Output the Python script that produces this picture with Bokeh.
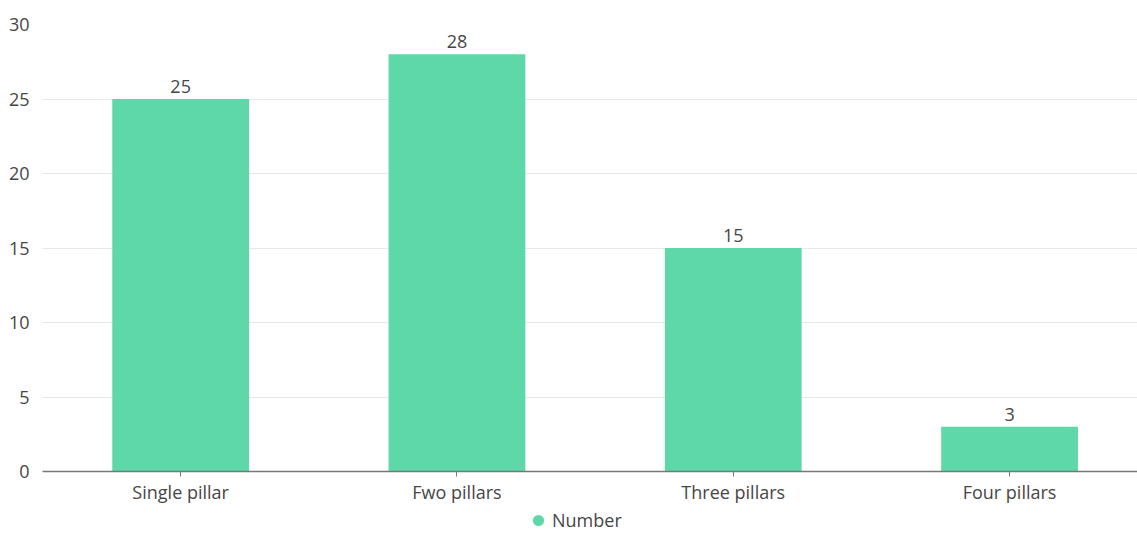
from bokeh.plotting import figure
from bokeh.layouts import column
from bokeh.models import ColumnDataSource, Range1d, Legend, LegendItem, FixedTicker, LabelSet
from bokeh.core.properties import value
from bokeh.embed import file_html
from bokeh.resources import INLINE

categories = ["Single pillar", "Fwo pillars", "Three pillars", "Four pillars"]
counts = [25, 28, 15, 3]
y_ticks = [0, 5, 10, 15, 20, 25, 30]
series_name = "Number"

FONT = "Open Sans"
FS = "18px"
GREEN = "#5ed8a9"
TEXT = "#464646"

xs = list(range(len(categories)))
src = ColumnDataSource(dict(x=xs, top=counts, label=[str(c) for c in counts]))

p = figure(width=1137, height=506, output_backend="svg", toolbar_location=None,
           x_range=Range1d(-0.5, 3.463), y_range=Range1d(0, 30),
           min_border_left=42, min_border_right=0, min_border_top=24, min_border_bottom=35)
p.outline_line_color = None
p.background_fill_color = "white"
p.border_fill_color = "white"

bars = p.vbar(x="x", top="top", width=0.495, bottom=0, source=src, fill_color=GREEN, line_color=None)

labels = LabelSet(x="x", y="top", text="label", source=src, text_align="center", text_baseline="bottom",
                  y_offset=6, text_font=value(FONT), text_font_size=FS, text_color=TEXT)
p.add_layout(labels)

# axes
p.xaxis.ticker = FixedTicker(ticks=xs)
p.xaxis.major_label_overrides = {i: c for i, c in enumerate(categories)}
p.xaxis.major_label_text_font = FONT
p.xaxis.major_label_text_font_size = FS
p.xaxis.major_label_text_color = TEXT
p.xaxis.axis_line_color = "#777777"
p.xaxis.axis_line_width = 1.5
p.xaxis.major_tick_line_color = "#777777"
p.xaxis.major_tick_in = 0
p.xaxis.major_tick_out = 5
p.xaxis.minor_tick_line_color = None
p.xaxis.major_label_standoff = 3

p.yaxis.ticker = FixedTicker(ticks=y_ticks)
p.yaxis.axis_line_color = None
p.yaxis.major_tick_line_color = None
p.yaxis.minor_tick_line_color = None
p.yaxis.major_label_text_font = FONT
p.yaxis.major_label_text_font_size = FS
p.yaxis.major_label_text_color = TEXT
p.yaxis.major_label_standoff = 7

p.xgrid.grid_line_color = None
p.ygrid.ticker = FixedTicker(ticks=y_ticks)
p.ygrid.grid_line_color = "#e8e8e8"
p.ygrid.grid_line_width = 1

# legend strip
lg = figure(width=1137, height=28, output_backend="svg", toolbar_location=None,
            x_range=Range1d(0, 1), y_range=Range1d(0, 1),
            min_border_left=0, min_border_right=0, min_border_top=0, min_border_bottom=0)
lg.axis.visible = False
lg.grid.visible = False
lg.outline_line_color = None
dot = lg.scatter(x=[-10], y=[-10], marker="circle", fill_color=GREEN, line_color=None)
legend = Legend(items=[LegendItem(label=series_name, renderers=[dot])], orientation="horizontal",
                location=(482, 0), border_line_color=None, background_fill_alpha=0,
                label_text_font=FONT, label_text_font_size=FS, label_text_color=TEXT,
                glyph_width=28, glyph_height=28, padding=0, margin=0, label_standoff=0)
lg.add_layout(legend, "center")

layout = column(p, lg, spacing=0)
open("out.html", "w").write(file_html(layout, INLINE))
